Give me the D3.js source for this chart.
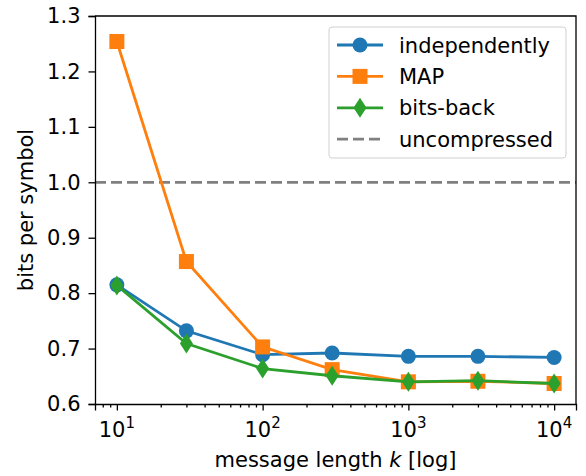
<!DOCTYPE html>
<html>
<head>
<meta charset="utf-8">
<script src="https://cdn.jsdelivr.net/npm/d3@7"></script>
<style>
  body { margin: 0; background: #fff; }
  text { font-family: "DejaVu Sans", sans-serif; fill: #000; }
</style>
</head>
<body>
<div id="chart"></div>
<script>
const lengths = [10, 30, 100, 300, 1000, 3000, 10000];
const independently = [0.815, 0.732, 0.689, 0.692, 0.686, 0.686, 0.684];
const mapValues = [1.254, 0.857, 0.703, 0.662, 0.640, 0.641, 0.637];
const bitsBack = [0.814, 0.709, 0.664, 0.651, 0.640, 0.642, 0.637];
const uncompressed = 1.0;
const yTicks = [0.6, 0.7, 0.8, 0.9, 1.0, 1.1, 1.2, 1.3];
const xTicks = [10, 100, 1000, 10000];

const series = [
    {name: 'independently', values: independently, color: '#1f77b4', marker: 'circle'},
    {name: 'MAP', values: mapValues, color: '#ff7f0e', marker: 'square'},
    {name: 'bits-back', values: bitsBack, color: '#2ca02c', marker: 'diamond'}
];

const width = 586, height = 476;
const margin = {left: 95, right: 10, top: 16, bottom: 72};
const fs = "21px";

let svg = d3.select("#chart")
    .append("svg")
    .attr("width", width)
    .attr("height", height);

let x = d3.scaleLog()
    .domain([Math.pow(10, 0.85), Math.pow(10, 4.15)])
    .range([margin.left, width - margin.right]);

let y = d3.scaleLinear()
    .domain([0.6, 1.3])
    .range([height - margin.bottom, margin.top]);

// dashed reference line
svg.append("line")
    .attr("x1", x.range()[0]).attr("x2", x.range()[1])
    .attr("y1", y(uncompressed)).attr("y2", y(uncompressed))
    .attr("stroke", "#808080")
    .attr("stroke-width", 2.8)
    .attr("stroke-dasharray", "11,5");

function drawMarker(g, type, color) {
    if (type === 'circle') {
        g.append("circle").attr("r", 7.5).attr("fill", color);
    } else if (type === 'square') {
        g.append("rect").attr("x", -7.5).attr("y", -7.5).attr("width", 15).attr("height", 15).attr("fill", color);
    } else {
        g.append("path").attr("d", "M0,-10L6.5,0L0,10L-6.5,0Z").attr("fill", color);
    }
}

let line = d3.line()
    .x((d, i) => x(lengths[i]))
    .y(d => y(d));

series.forEach(s => {
    svg.append("path")
        .datum(s.values)
        .attr("fill", "none")
        .attr("stroke", s.color)
        .attr("stroke-width", 2.8)
        .attr("d", line);
    s.values.forEach((v, i) => {
        let g = svg.append("g").attr("transform", `translate(${x(lengths[i])},${y(v)})`);
        drawMarker(g, s.marker, s.color);
    });
});

// axes
let yAxis = svg.append("g")
    .attr("transform", `translate(${margin.left},0)`)
    .call(d3.axisLeft(y).tickValues(yTicks).tickFormat(d3.format(".1f")).tickSize(6.5).tickPadding(8));
yAxis.selectAll("text").style("font-size", fs);

let minorTicks = [];
for (let e = 0; e <= 4; e++) {
    for (let m = 2; m <= 9; m++) {
        let v = m * Math.pow(10, e);
        if (v >= x.domain()[0] && v <= x.domain()[1]) minorTicks.push(v);
    }
}
svg.append("g")
    .attr("transform", `translate(0,${height - margin.bottom})`)
    .call(d3.axisBottom(x).tickValues(minorTicks).tickFormat("").tickSize(3.5))
    .call(g => g.select(".domain").remove());

svg.append("g")
    .attr("transform", `translate(0,${height - margin.bottom})`)
    .call(d3.axisBottom(x).tickValues(xTicks).tickFormat("").tickSize(6.5));

xTicks.forEach(t => {
    let txt = svg.append("text")
        .attr("x", x(t))
        .attr("y", height - margin.bottom + 33)
        .attr("text-anchor", "middle")
        .style("font-size", fs);
    txt.append("tspan").text("10");
    txt.append("tspan").attr("dy", -9).style("font-size", "15px").text(Math.round(Math.log10(t)));
});

svg.selectAll(".domain").attr("stroke", "#000").attr("stroke-width", 1.3);
svg.selectAll(".tick line").attr("stroke", "#000").attr("stroke-width", 1.3);

// top and right spines
svg.append("path")
    .attr("d", `M${margin.left},${margin.top}H${width - margin.right}V${height - margin.bottom}`)
    .attr("fill", "none").attr("stroke", "#000").attr("stroke-width", 1.3);

// axis labels
let xl = svg.append("text")
    .attr("x", (margin.left + width - margin.right) / 2)
    .attr("y", 467)
    .attr("text-anchor", "middle")
    .style("font-size", fs);
xl.append("tspan").text("message length ");
xl.append("tspan").style("font-style", "italic").text("k");
xl.append("tspan").text(" [log]");

svg.append("text")
    .attr("transform", `translate(33,${(margin.top + height - margin.bottom) / 2}) rotate(-90)`)
    .attr("text-anchor", "middle")
    .style("font-size", fs)
    .text("bits per symbol");

// legend
let legend = svg.append("g");
legend.append("rect")
    .attr("x", 329).attr("y", 27).attr("width", 237).attr("height", 131)
    .attr("rx", 3)
    .attr("fill", "#fff").attr("fill-opacity", 0.8)
    .attr("stroke", "#d0d0d0");

let items = series.concat([{name: 'uncompressed', color: '#808080', marker: null}]);
items.forEach((s, i) => {
    let cy = 45 + i * 31.4;
    let ln = legend.append("line")
        .attr("x1", 337).attr("x2", 383)
        .attr("y1", cy).attr("y2", cy)
        .attr("stroke", s.color).attr("stroke-width", 2.8);
    if (s.marker) {
        let g = legend.append("g").attr("transform", `translate(360,${cy})`);
        drawMarker(g, s.marker, s.color);
    } else {
        ln.attr("stroke-dasharray", "11,5").attr("x1", 337).attr("x2", 385);
    }
    legend.append("text")
        .attr("x", 399).attr("y", cy + 7.5)
        .style("font-size", fs)
        .text(s.name);
});
</script>
</body>
</html>
